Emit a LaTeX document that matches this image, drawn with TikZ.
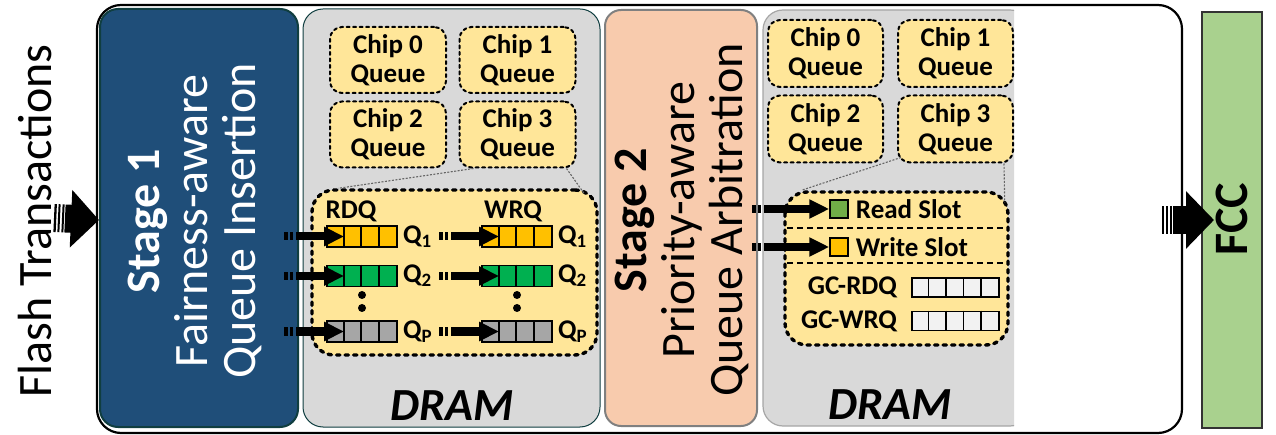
\documentclass[tikz,border=0pt]{standalone}
\usepackage{fontspec}
\setmainfont{Carlito}
\usetikzlibrary{arrows.meta,positioning}
\definecolor{Navy}{HTML}{1F4E79}
\definecolor{Teal}{HTML}{103E40}
\definecolor{Peach}{HTML}{F8CBAD}
\definecolor{Dram}{HTML}{D9D9D9}
\definecolor{Cream}{HTML}{FFE699}
\definecolor{Gold}{HTML}{FFC000}
\definecolor{Green}{HTML}{00B050}
\definecolor{Leaf}{HTML}{70AD47}
\definecolor{Stone}{HTML}{A6A6A6}
\definecolor{Mint}{HTML}{A9D18E}
\definecolor{Ash}{HTML}{F2F2F2}

\begin{document}
\begin{tikzpicture}[x=1pt,y=-1pt,>=Latex,
  panel/.style={draw,rounded corners=18pt,inner sep=0pt,minimum height=418pt},
  chipq/.style={draw,fill=Cream,line width=2pt,dash pattern=on 3pt off 3.5pt,line cap=round,rounded corners=12pt,
    minimum width=116pt,minimum height=66pt,align=center,inner sep=0pt,font=\bfseries\fontsize{27}{29}\selectfont},
  group/.style={draw,fill=Cream,line width=3.4pt,dash pattern=on 3.5pt off 5pt,line cap=round,rounded corners=22pt,inner sep=0pt},
  qbox/.style={draw,line width=1.6pt,minimum width=70pt,minimum height=21pt,inner sep=0pt},
  lab/.style={inner sep=0pt,font=\bfseries\fontsize{27}{29}\selectfont},
  big/.style={align=center,rotate=90,inner sep=0pt,font=\fontsize{48}{48}\selectfont},
  link/.style={draw=black!60,line width=1.1pt,dash pattern=on 2pt off 1.5pt},
  qarrow/.style={-{Triangle[length=20pt,width=18pt]},line width=8pt,dash pattern=on 4pt off 2pt on 3pt off 3pt on 300pt},
  bigarrow/.style={-{Triangle[length=28pt,width=56pt]},line width=28pt,dash pattern=on 2.3pt off 1.7pt on 2pt off 2pt on 2pt off 1pt on 300pt}]
  \useasboundingbox (0,0) rectangle (1276,435);
  % outer frame
  \draw[line width=2.2pt,rounded corners=24pt] (97,5) rectangle (1182,433);

  % stage 1
  \node[panel,fill=Navy,draw=Teal,line width=2pt,minimum width=198pt] (st1) at (199,218) {};
  \node[big,text=white] (st1txt) at (195,221) {\textbf{Stage 1}\\Fairness-aware\\Queue Insertion};
  \node[big] (flash) at (35,221) {Flash Transactions};

  % dram of stage 1
  \node[panel,fill=Dram,draw=Teal,line width=1pt,minimum width=297pt,rounded corners=20pt] (dram1) at (451.5,218) {};
  \node[font=\bfseries\itshape\fontsize{46}{46}\selectfont] (dram1txt) at (452,406) {DRAM};
  \foreach \i/\x/\y in {0/388/60,1/517.5/60,2/388/134.5,3/517.5/134.5}
    \node[chipq] (ca\i) at (\x,\y) {Chip \i\\Queue};
  \node[group,minimum width=285pt,minimum height=165pt] (grpa) at (454.5,272.5) {};
  \draw[link] ([xshift=15pt]ca3.south west) -- ([xshift=28pt]grpa.north west);
  \draw[link] ([xshift=-10pt]ca3.south east) -- ([xshift=-14pt,yshift=-6pt]grpa.north east);
  \node[lab] (rdq) at (351,211) {RDQ};
  \node[lab] (wrq) at (513,211) {WRQ};
  \foreach \n/\y/\c in {1/236.5/Gold,2/276/Green,P/331.5/Stone}{
    \node[qbox,fill=\c] (rq\n) at (362,\y) {};
    \node[qbox,fill=\c] (wq\n) at (517,\y) {};
    \foreach \k in {1,2,3}{
      \draw[line width=1.6pt] ([xshift={17.5pt*\k}]rq\n.north west) -- ([xshift={17.5pt*\k}]rq\n.south west);
      \draw[line width=1.6pt] ([xshift={17.5pt*\k}]wq\n.north west) -- ([xshift={17.5pt*\k}]wq\n.south west);
    }
    \node[lab,right=5pt of rq\n] {Q\textsubscript{\n}};
    \node[lab,right=5pt of wq\n] {Q\textsubscript{\n}};
    \coordinate[left=42pt of rq\n.west] (ra\n);
    \coordinate[left=42pt of wq\n.west] (wa\n);
    \draw[qarrow] (ra\n) -- ([xshift=18pt]rq\n.west);
    \draw[qarrow] (wa\n) -- ([xshift=18pt]wq\n.west);
  }
  \foreach \y in {295,308}{
    \fill (362,\y) circle (4pt);
    \fill (517,\y) circle (4pt);
  }

  % stage 2
  \node[panel,fill=Peach,draw=black!50,line width=2pt,minimum width=152pt,minimum height=416pt,rounded corners=16pt] (st2) at (681,218) {};
  \node[big] (st2txt) at (682,220) {\textbf{Stage 2}\\Priority-aware\\Queue Arbitration};

  % dram of stage 2 (cut at the right)
  \begin{scope}
    \clip (760,0) rectangle (1014,435);
    \node[panel,fill=Dram,draw=black!35,line width=1.2pt,minimum width=267pt,minimum height=416pt,rounded corners=20pt] (dram2) at (896.5,218) {};
  \end{scope}
  \node[font=\bfseries\itshape\fontsize{46}{46}\selectfont] (dram2txt) at (890,405) {DRAM};
  \foreach \i/\x/\y in {0/825.5/53.5,1/955.5/53.5,2/825.5/129,3/955.5/129}
    \node[chipq,minimum width=115pt,minimum height=67pt] (cb\i) at (\x,\y) {Chip \i\\Queue};
  \node[group,minimum width=223pt,minimum height=153pt] (grpb) at (896.5,268.5) {};
  \draw[link] ([xshift=4pt,yshift=6pt]cb3.south west) -- ([xshift=18pt]grpb.north west);
  \draw[link] ([xshift=-10pt]cb3.south east) -- ([xshift=-5pt,yshift=-12pt]grpb.north east);
  \draw[line width=1.2pt,dash pattern=on 6pt off 4pt] (787,228) -- (1006,228);
  \draw[line width=1.2pt,dash pattern=on 6pt off 4pt] (787,263) -- (1006,263);
  \node[draw,line width=1.5pt,fill=Leaf,minimum size=18pt,inner sep=0pt] (rslot) at (839,209) {};
  \node[draw,line width=1.5pt,fill=Gold,minimum size=18pt,inner sep=0pt] (wslot) at (839,247) {};
  \node[lab,right=7pt of rslot] (rslottxt) {Read Slot};
  \node[lab,right=7pt of wslot] (wslottxt) {Write Slot};
  \coordinate[left=77pt of rslot.west] (rin);
  \coordinate[left=77pt of wslot.west] (win);
  \draw[qarrow] (rin) -- (rslot.west);
  \draw[qarrow] (win) -- (wslot.west);
  \foreach \n/\y/\t in {r/287.5/GC-RDQ,w/321/GC-WRQ}{
    \node[qbox,fill=Ash,minimum width=87pt,minimum height=19pt] (gc\n) at (955.5,\y) {};
    \foreach \k in {1,...,4}
      \draw[line width=1.6pt] ([xshift={17.4pt*\k}]gc\n.north west) -- ([xshift={17.4pt*\k}]gc\n.south west);
    \node[lab,left=14pt of gc\n] {\t};
  }

  % FCC
  \node[draw=black!80,line width=2pt,fill=Mint,minimum width=60pt,minimum height=416pt] (fcc) at (1232,220) {};
  \node[big,font=\bfseries\fontsize{48}{48}\selectfont] (fcctxt) at (1232,219) {FCC};

  % big arrows
  \coordinate[left=45pt of st1.west] (fin);
  \coordinate[left=39pt of fcc.west] (fout);
  \draw[bigarrow] (fin) -- ([yshift=-2pt]st1.west);
  \draw[bigarrow] (fout) -- ([xshift=13pt]fcc.west);
\end{tikzpicture}
\end{document}
